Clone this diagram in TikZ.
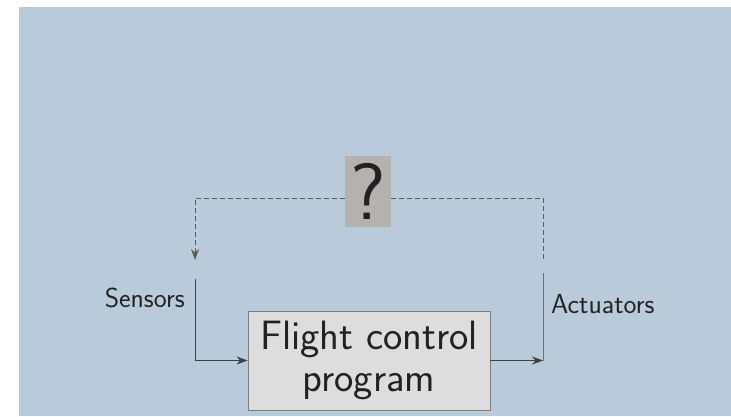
\documentclass[tikz,border=0pt]{standalone}
\usetikzlibrary{arrows.meta}
\definecolor{bgblue}{RGB}{185,202,219}
\definecolor{boxgray}{RGB}{221,221,221}
\definecolor{qgray}{RGB}{180,177,174}
\definecolor{edgegray}{RGB}{125,125,125}
\definecolor{linegray}{RGB}{62,64,58}
\definecolor{txtgray}{RGB}{34,34,34}
\tikzset{
  progbox/.style={draw=edgegray,fill=boxgray,line width=0.9pt,minimum width=242pt,minimum height=99pt,
    inner sep=0pt,align=center,text=txtgray,font=\sffamily\fontsize{41}{42}\selectfont},
  qbox/.style={fill=qgray,minimum width=46pt,minimum height=71pt,inner sep=0pt,text=txtgray,
    font=\sffamily\fontsize{80}{82}\selectfont},
  lbl/.style={inner sep=0pt,text=txtgray,font=\sffamily\fontsize{27.5}{30}\selectfont},
  wire/.style={draw=linegray,line width=0.9pt},
  dashwire/.style={wire,draw=linegray!85,dash pattern=on 5pt off 3pt}
}
\begin{document}
\begin{tikzpicture}[x=1pt,y=-1pt,>={Stealth[length=11pt,width=8pt]}]
\useasboundingbox (0,0) rectangle (731,416);
\fill[bgblue] (19,7) rectangle (731,416);
% blocks
\node[progbox] (prog) at (369,360.5) {Flight control\\program};
\node[qbox] (q) at (368,191.5) {?};
\node[lbl,anchor=base east] (sens) at (185,307) {Sensors};
\node[lbl,anchor=base west] (act) at (551,313) {Actuators};
% corners
\coordinate (sdash) at (195,198);
\coordinate (sarr) at (195,260);
\coordinate (stop) at (195,279);
\coordinate (adash) at (543,198);
\coordinate (aend) at (543,262);
\coordinate (atop) at (543,273);
\coordinate (abot) at (543,360.5);
% wires
\draw[wire,->] (stop) |- (prog.west);
\draw[wire,draw=linegray!75] (atop) -- (abot);
\draw[wire,->] (prog.east) -- (abot);
\draw[dashwire,->] (q.west |- sdash) -- (sdash) -- (sarr);
\draw[dashwire] (q.east |- adash) -- (adash) -- (aend);
\end{tikzpicture}
\end{document}
